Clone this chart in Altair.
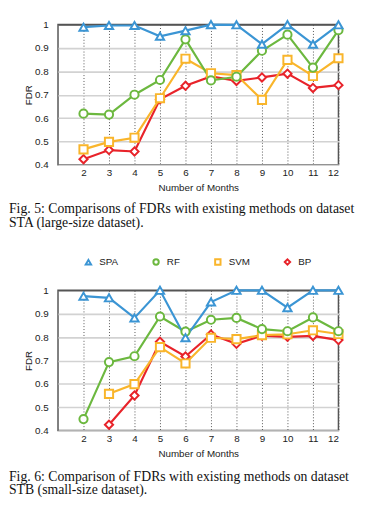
import altair as alt
import pandas as pd

months = [2, 3, 4, 5, 6, 7, 8, 9, 10, 11, 12]
methods = ["SPA", "RF", "SVM", "BP"]
colors = ["#3b95d4", "#6cb83f", "#f9b52b", "#e8232a"]
shapes = ["triangle-up", "circle", "square", "diamond"]
y_ticks = [0.4, 0.5, 0.6, 0.7, 0.8, 0.9, 1.0]

# Fig. 5 - dataset STA
sta_spa = [0.989, 0.996, 0.996, 0.950, 0.974, 1.000, 0.999, 0.916, 1.000, 0.916, 0.999]
sta_rf = [0.619, 0.615, 0.700, 0.763, 0.937, 0.761, 0.777, 0.888, 0.957, 0.816, 0.976]
sta_svm = [0.466, 0.498, 0.516, 0.685, 0.854, 0.792, 0.784, 0.678, 0.849, 0.780, 0.856]
sta_bp = [0.424, 0.463, 0.457, 0.680, 0.738, 0.778, 0.759, 0.774, 0.790, 0.729, 0.741]

# Fig. 6 - dataset STB
stb_spa = [0.975, 0.968, 0.882, 1.000, 0.797, 0.950, 1.000, 1.000, 0.926, 1.000, 1.000]
stb_rf = [0.449, 0.693, 0.718, 0.888, 0.823, 0.874, 0.882, 0.834, 0.825, 0.884, 0.825]
stb_svm = [None, 0.557, 0.599, 0.757, 0.687, 0.797, 0.791, 0.808, 0.812, 0.829, 0.813]
stb_bp = [None, 0.425, 0.550, 0.780, 0.717, 0.811, 0.771, 0.806, 0.801, 0.805, 0.787]

caption5 = ["Fig. 5: Comparisons of FDRs with existing methods on dataset",
            "STA (large-size dataset)."]
caption6 = ["Fig. 6: Comparison of FDRs with existing methods on dataset",
            "STB (small-size dataset)."]


def long_df(series):
    rows = []
    # draw order: BP first, SPA last (on top)
    for name in ["BP", "SVM", "RF", "SPA"]:
        for m, v in zip(months, series[name]):
            if v is not None:
                rows.append({"month": m, "fdr": v, "method": name})
    return pd.DataFrame(rows)


def panel(df, caption, legend, cap_offset):
    x = alt.X("month:Q",
              scale=alt.Scale(domain=[1, 12], nice=False, zero=False),
              axis=alt.Axis(values=months, title="Number of Months",
                            grid=True, gridDash=[1, 2], gridColor="#555",
                            gridWidth=1, labelPadding=3, titlePadding=5))
    y = alt.Y("fdr:Q",
              scale=alt.Scale(domain=[0.4, 1.0], nice=False, zero=False),
              axis=alt.Axis(values=y_ticks, format=".1~f", title="FDR",
                            grid=True,
                            gridColor={"condition": {"test": "datum.value >= 0.999", "value": "#555"},
                                       "value": "#d2d2d2"},
                            gridWidth=1.6, labelPadding=10, titlePadding=1))
    color = alt.Color("method:N", scale=alt.Scale(domain=methods, range=colors),
                      legend=legend)
    shape = alt.Shape("method:N", scale=alt.Scale(domain=methods, range=shapes),
                      legend=legend)
    lines = alt.Chart(df).mark_line(strokeWidth=2.2).encode(x=x, y=y, color=color)
    points = alt.Chart(df).mark_point(filled=False, fill="white", fillOpacity=1,
                                      strokeWidth=2, size=70, opacity=1).encode(
        x=x, y=y, color=color, shape=shape)
    return alt.layer(lines, points).properties(
        width=286, height=143,
        title=alt.TitleParams(text=caption, orient="bottom", anchor="start",
                              frame="group", dx=-50, offset=cap_offset,
                              font="Liberation Serif", fontSize=14,
                              fontWeight="normal", color="#111", lineHeight=14))


legend_bottom = alt.Legend(orient="none", legendX=26, legendY=-34,
                           direction="horizontal", columns=4, title=None,
                           columnPadding=31, symbolSize=30, symbolStrokeWidth=2,
                           symbolFillColor="white",
                           labelFontSize=10, labelOffset=6,
                           labelFont="Liberation Sans", labelColor="#222")

top = panel(long_df({"SPA": sta_spa, "RF": sta_rf, "SVM": sta_svm, "BP": sta_bp}),
            caption5, None, 10)
bottom = panel(long_df({"SPA": stb_spa, "RF": stb_rf, "SVM": stb_svm, "BP": stb_bp}),
               caption6, legend_bottom, 12)

chart = alt.vconcat(top, bottom, spacing=26).resolve_legend(
    color="independent", shape="independent"
).configure(
    padding={"left": 0, "top": 3, "right": 5, "bottom": 2}
).configure_view(
    stroke="#555", strokeWidth=1.5
).configure_axis(
    domain=False, ticks=False,
    labelFont="Liberation Sans", labelFontSize=10, labelColor="#222",
    titleFont="Liberation Sans", titleFontSize=10, titleFontWeight="normal",
    titleColor="#222"
)

chart.save("out.html", embed_options={"renderer": "svg", "actions": False})
